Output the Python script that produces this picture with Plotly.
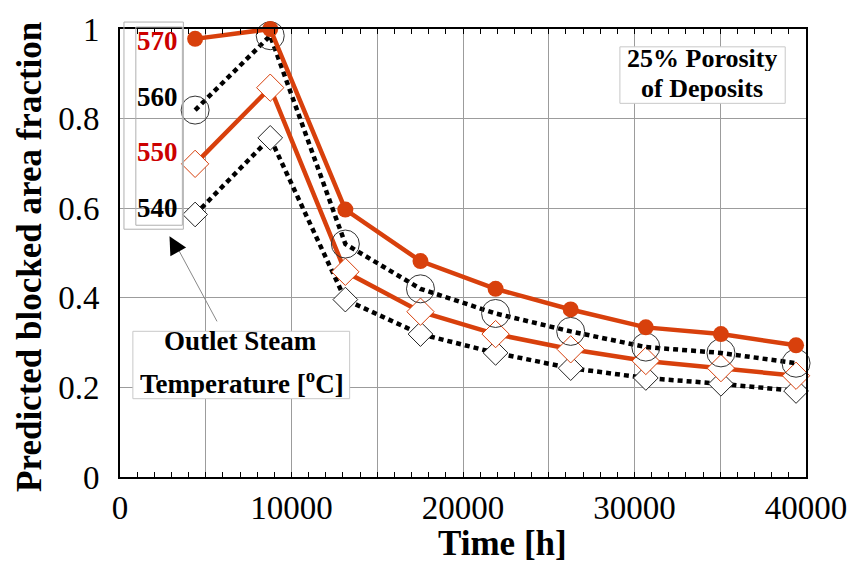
import plotly.graph_objects as go

# ---- data ----
time_h = [4380, 8760, 13140, 17520, 21900, 26280, 30660, 35040, 39420]
t570 = [0.978, 1.0, 0.597, 0.482, 0.420, 0.374, 0.334, 0.319, 0.294]
t560 = [0.819, 0.985, 0.520, 0.420, 0.365, 0.325, 0.290, 0.277, 0.254]
t550 = [0.699, 0.869, 0.458, 0.369, 0.319, 0.285, 0.259, 0.243, 0.226]
t540 = [0.586, 0.757, 0.396, 0.319, 0.277, 0.243, 0.221, 0.208, 0.192]

x_tickvals = [0, 5000, 10000, 15000, 20000, 25000, 30000, 35000, 40000]
x_ticktext = ["0", " ", "10000", " ", "20000", " ", "30000", " ", "40000"]
y_tickvals = [0, 0.2, 0.4, 0.6, 0.8, 1.0]
y_ticktext = ["0", "0.2", "0.4", "0.6", "0.8", "1"]

legend_labels = ["570", "560", "550", "540"]

RED = "#d8400c"
TXT_RED = "#cc0000"
FONT = "Liberation Serif"

W, H = 859, 565
L, R, T, B = 120, 46, 25, 88
PW, PH = W - L - R, H - T - B


def px(x):
    return (x - L) / PW


def py(y):
    return (H - B - y) / PH


fig = go.Figure()

DOT = "5px,4px"

fig.add_trace(go.Scatter(
    x=time_h, y=t540, mode="lines+markers", cliponaxis=False,
    line=dict(color="black", width=4.5, dash=DOT),
    marker=dict(symbol="diamond", size=19, color="white",
                line=dict(color="#222222", width=1)),
    showlegend=False))
fig.add_trace(go.Scatter(
    x=time_h, y=t550, mode="lines+markers", cliponaxis=False,
    line=dict(color=RED, width=4.5),
    marker=dict(symbol="diamond", size=21, color="white",
                line=dict(color=RED, width=1)),
    showlegend=False))
fig.add_trace(go.Scatter(
    x=time_h, y=t560, mode="lines+markers", cliponaxis=False,
    line=dict(color="black", width=4.5, dash=DOT),
    marker=dict(symbol="circle-open", size=28, color="#333333",
                line=dict(color="#333333", width=1)),
    showlegend=False))
fig.add_trace(go.Scatter(
    x=time_h, y=t570, mode="lines+markers", cliponaxis=False,
    line=dict(color=RED, width=4.5),
    marker=dict(symbol="circle", size=16, color=RED),
    showlegend=False))

shapes = []
# legend boxes
shapes.append(dict(type="rect", xref="paper", yref="paper",
                   x0=px(124), x1=px(184), y0=py(227), y1=py(18),
                   line=dict(color="#b0b0b0", width=1), fillcolor="rgba(0,0,0,0)"))
shapes.append(dict(type="rect", xref="paper", yref="paper",
                   x0=px(136), x1=px(183), y0=py(223), y1=py(23),
                   line=dict(color="#b0b0b0", width=1), fillcolor="rgba(0,0,0,0)"))
# pointer line
shapes.append(dict(type="line", xref="paper", yref="paper",
                   x0=px(218), y0=py(320), x1=px(176), y1=py(242),
                   line=dict(color="#888888", width=1)))
# text boxes
shapes.append(dict(type="rect", xref="paper", yref="paper",
                   x0=px(133), x1=px(352), y0=py(398), y1=py(330),
                   line=dict(color="#c8c8c8", width=1), fillcolor="white"))
shapes.append(dict(type="rect", xref="paper", yref="paper",
                   x0=px(625), x1=px(792), y0=py(100), y1=py(43),
                   line=dict(color="#c8c8c8", width=1), fillcolor="white"))

annotations = []
leg_y = [37.5, 94, 149, 206]
leg_col = [TXT_RED, "black", TXT_RED, "black"]
for lab, yy, cc in zip(legend_labels, leg_y, leg_col):
    annotations.append(dict(text="<b>%s</b>" % lab, xref="paper", yref="paper",
                            x=px(158), y=py(yy), xanchor="center", yanchor="middle",
                            showarrow=False, font=dict(family=FONT, size=27, color=cc)))
# arrow head
annotations.append(dict(xref="paper", yref="paper", x=px(170), y=py(234),
                        ax=10, ay=18, axref="pixel", ayref="pixel",
                        text=" ", showarrow=True, arrowhead=2, arrowsize=3,
                        arrowwidth=1.2, arrowcolor="black"))
annotations.append(dict(text="<b>Outlet Steam</b>", xref="paper", yref="paper",
                        x=px(242), y=py(340), xanchor="center", yanchor="middle",
                        height=30, showarrow=False,
                        font=dict(family=FONT, size=27, color="black")))
annotations.append(dict(text="<b>Temperature [<sup>o</sup>C]</b>", xref="paper", yref="paper",
                        x=px(243), y=py(381), xanchor="center", yanchor="middle",
                        height=30, showarrow=False,
                        font=dict(family=FONT, size=27, color="black")))
annotations.append(dict(text="<b>25% Porosity</b>", xref="paper", yref="paper",
                        x=px(708), y=py(54.5), xanchor="center", yanchor="middle",
                        height=26, showarrow=False,
                        font=dict(family=FONT, size=26, color="black")))
annotations.append(dict(text="<b>of Deposits</b>", xref="paper", yref="paper",
                        x=px(708), y=py(84.5), xanchor="center", yanchor="middle",
                        height=26, showarrow=False,
                        font=dict(family=FONT, size=26, color="black")))
# axis titles
annotations.append(dict(text="<b>Time [h]</b>", xref="paper", yref="paper",
                        x=px(506), y=py(544), xanchor="center", yanchor="middle",
                        height=34, showarrow=False,
                        font=dict(family=FONT, size=35, color="black")))
annotations.append(dict(text="<b>Predicted blocked area fraction</b>", xref="paper", yref="paper",
                        x=px(29), y=py(255), xanchor="center", yanchor="middle",
                        textangle=-90,
                        showarrow=False, font=dict(family=FONT, size=35, color="black")))

fig.update_layout(
    width=W, height=H,
    margin=dict(l=L, r=R, t=T, b=B, pad=0),
    paper_bgcolor="white", plot_bgcolor="white",
    shapes=shapes, annotations=annotations,
    font=dict(family=FONT, color="black"),
    xaxis=dict(range=[0, 40000], tickvals=x_tickvals, ticktext=x_ticktext,
               showgrid=True, gridcolor="#9c9c9c", gridwidth=1, zeroline=False,
               showline=True, linecolor="black", linewidth=2, mirror="ticks",
               ticks="inside", ticklen=5, tickcolor="black", tickwidth=1,
               minor=dict(dtick=1000, tick0=0, ticks="inside", ticklen=5,
                          tickcolor="black", tickwidth=1, showgrid=False),
               tickfont=dict(family=FONT, size=33, color="black"),
               ticklabelstandoff=0),
    yaxis=dict(range=[0, 1], tickvals=y_tickvals, ticktext=y_ticktext,
               showgrid=True, gridcolor="#9c9c9c", gridwidth=1, zeroline=False,
               showline=True, linecolor="black", linewidth=2, mirror=True,
               ticks="", tickfont=dict(family=FONT, size=33, color="black"),
               ticklabelstandoff=12),
)

fig.write_html("out.html", config={"displayModeBar": False},
               post_script="document.body.style.margin='0px';document.body.style.padding='0px';")
